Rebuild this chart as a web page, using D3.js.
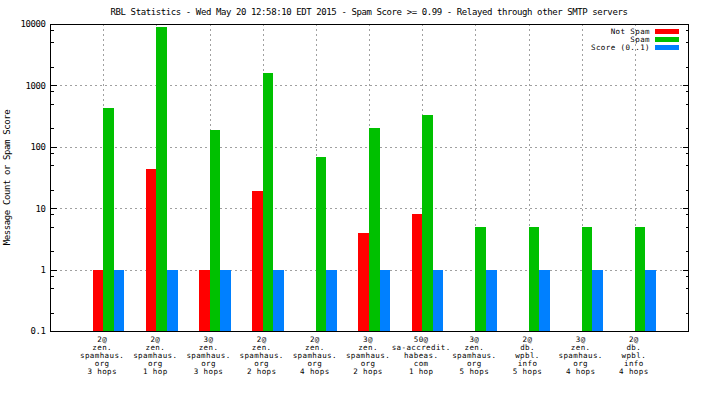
<!DOCTYPE html>
<html>
<head>
<meta charset="utf-8">
<script src="https://cdn.jsdelivr.net/npm/d3@7"></script>
<style>
  body { margin: 0; background: #fff; }
  svg { display: block; }
  text { font-family: "DejaVu Sans Mono", monospace; font-size: 9px; letter-spacing: -0.4px; fill: #000; }
  .small { font-size: 7.5px; letter-spacing: 0.4px; }
</style>
</head>
<body>
<section></section>
<script>
"use strict";

// chart data
const categories = [
  ["2@", "zen.", "spamhaus.", "org", "3 hops"],
  ["2@", "zen.", "spamhaus.", "org", "1 hop"],
  ["3@", "zen.", "spamhaus.", "org", "3 hops"],
  ["2@", "zen.", "spamhaus.", "org", "2 hops"],
  ["2@", "zen.", "spamhaus.", "org", "4 hops"],
  ["3@", "zen.", "spamhaus.", "org", "2 hops"],
  ["50@", "sa-accredit.", "habeas.", "com", "1 hop"],
  ["3@", "zen.", "spamhaus.", "org", "5 hops"],
  ["2@", "db.", "wpbl.", "info", "5 hops"],
  ["3@", "zen.", "spamhaus.", "org", "4 hops"],
  ["2@", "db.", "wpbl.", "info", "4 hops"],
];
const notSpam = [1, 44, 1, 19, 0, 4, 8, 0, 0, 0, 0];
const spam = [436, 9050, 190, 1590, 68, 199, 335, 5, 5, 5, 5];
const score = [1, 1, 1, 1, 1, 1, 1, 1, 1, 1, 1];
const seriesNames = ["Not Spam", "Spam", "Score (0..1)"];
const yTicks = [0.1, 1, 10, 100, 1000, 10000];
const yTickLabels = ["0.1", "1", "10", "100", "1000", "10000"];
const yMinorTicks = [0.2, 0.5, 0.8, 2, 5, 8, 20, 50, 80, 200, 500, 800, 2000, 5000, 8000];

const title = "RBL Statistics - Wed May 20 12:58:10 EDT 2015 - Spam Score >= 0.99 - Relayed through other SMTP servers";
const yTitle = "Message Count or Spam Score";

//Dimensions
const w = 704;
const h = 396;
const margin = { top: 24, bottom: 65, left: 50, right: 16 };
const colors = ["#ff0000", "#00c000", "#0080ff"];
const offsets = [-0.2, 0, 0.2]; // bar left edge relative to category, in category units
const barUnit = 0.2;

const svg = d3.select("section").append("svg").attr("width", w).attr("height", h);
svg.append("rect").attr("width", w).attr("height", h).attr("fill", "#fff");

const xScale = d3.scaleLinear().domain([-1, categories.length]).range([margin.left, w - margin.right]);
const yScale = d3.scaleLog().domain([0.1, 10000]).range([h - margin.bottom, margin.top]);

//Grid
const grid = svg.append("g").attr("stroke", "#a0a0a0").attr("stroke-dasharray", "2,3").attr("shape-rendering", "crispEdges");
grid.selectAll(".hgrid")
  .data(yTicks.slice(1, -1))
  .enter()
  .append("line")
  .attr("x1", margin.left)
  .attr("x2", w - margin.right)
  .attr("y1", (d) => Math.round(yScale(d)) + 0.5)
  .attr("y2", (d) => Math.round(yScale(d)) + 0.5);
grid.selectAll(".vgrid")
  .data(categories)
  .enter()
  .append("line")
  .attr("x1", (d, i) => Math.round(xScale(i)) + 0.5)
  .attr("x2", (d, i) => Math.round(xScale(i)) + 0.5)
  .attr("y1", margin.top)
  .attr("y2", h - margin.bottom);

//Bars
const series = [notSpam, spam, score];
series.forEach((values, s) => {
  svg.append("g")
    .attr("fill", colors[s])
    .attr("shape-rendering", "crispEdges")
    .selectAll("rect")
    .data(values.map((v, i) => ({ v, i })).filter((d) => d.v > 0))
    .enter()
    .append("rect")
    .attr("x", (d) => xScale(d.i + offsets[s]))
    .attr("width", (d) => xScale(d.i + offsets[s] + barUnit) - xScale(d.i + offsets[s]))
    .attr("y", (d) => yScale(d.v))
    .attr("height", (d) => yScale(0.1) - yScale(d.v));
});

//Axes
const yAxis = d3.axisLeft(yScale).tickValues(yTicks).tickFormat((d, i) => yTickLabels[i]).tickSize(-6).tickPadding(5);
const yMinor = d3.axisLeft(yScale).tickValues(yMinorTicks).tickFormat("").tickSize(-3);
const yAxisR = d3.axisRight(yScale).tickValues(yTicks).tickFormat("").tickSize(-6);
const yMinorR = d3.axisRight(yScale).tickValues(yMinorTicks).tickFormat("").tickSize(-3);

const left = svg.append("g").attr("transform", `translate(${margin.left + 0.5}, 0)`);
left.append("g").call(yAxis).call((g) => g.select(".domain").remove());
left.append("g").call(yMinor).call((g) => g.select(".domain").remove());
const right = svg.append("g").attr("transform", `translate(${w - margin.right + 0.5}, 0)`);
right.append("g").call(yAxisR).call((g) => g.select(".domain").remove());
right.append("g").call(yMinorR).call((g) => g.select(".domain").remove());
svg.selectAll(".tick line").attr("stroke", "#000").attr("shape-rendering", "crispEdges");
svg.selectAll(".tick text").style("font-size", "9px").attr("fill", "#000");

//Border
svg.append("rect")
  .attr("x", margin.left + 0.5)
  .attr("y", margin.top + 0.5)
  .attr("width", w - margin.left - margin.right)
  .attr("height", h - margin.top - margin.bottom)
  .attr("fill", "none")
  .attr("stroke", "#000")
  .attr("shape-rendering", "crispEdges");

//x labels
const xLabels = svg.append("g");
categories.forEach((lines, i) => {
  const t = xLabels.append("text")
    .attr("class", "small")
    .attr("text-anchor", "middle")
    .attr("x", xScale(i) - 1)
    .attr("y", h - margin.bottom + 11);
  lines.forEach((line, k) => {
    t.append("tspan")
      .attr("x", xScale(i) - 1)
      .attr("y", h - margin.bottom + 11 + k * 8)
      .text(line);
  });
});

//Title
svg.append("text")
  .attr("x", 369)
  .attr("y", 15)
  .attr("text-anchor", "middle")
  .text(title);

//y title
svg.append("text")
  .attr("transform", `translate(10, ${(margin.top + h - margin.bottom) / 2}) rotate(-90)`)
  .attr("text-anchor", "middle")
  .text(yTitle);

//Legend
const legend = svg.append("g").attr("transform", "translate(650, 31)");
seriesNames.forEach((name, s) => {
  legend.append("text")
    .attr("class", "small")
    .attr("x", 0)
    .attr("y", s * 8 + 3)
    .attr("text-anchor", "end")
    .text(name);
  legend.append("rect")
    .attr("x", 5)
    .attr("y", s * 8 - 2)
    .attr("width", 24)
    .attr("height", 5)
    .attr("fill", colors[s]);
});
</script>
</body>
</html>
